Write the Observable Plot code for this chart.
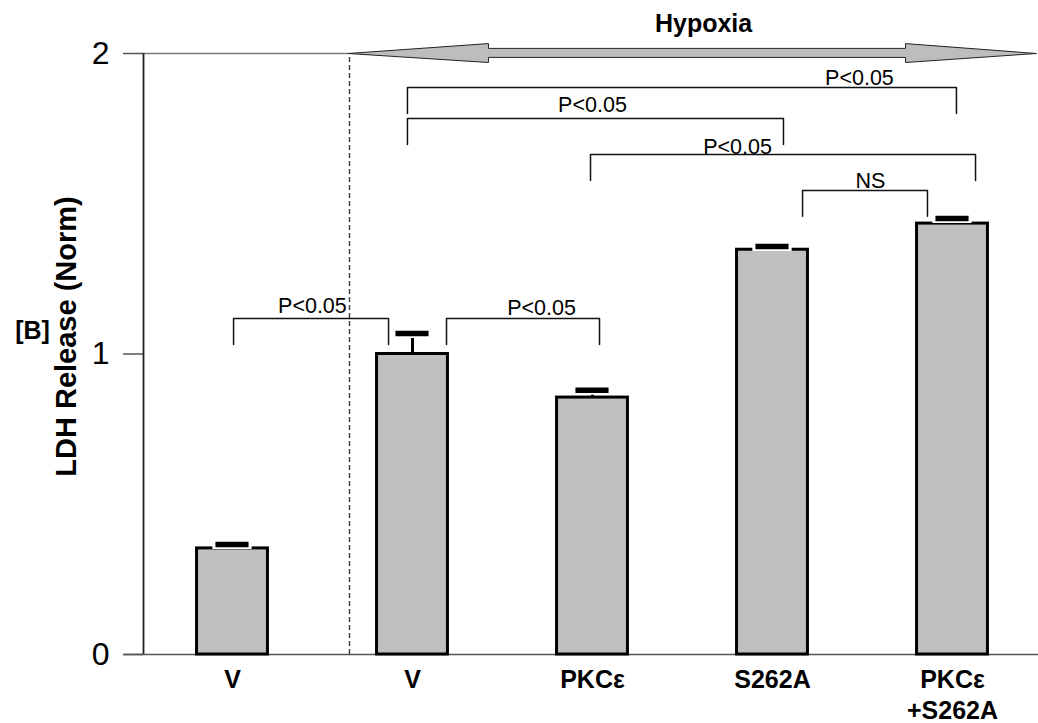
<!DOCTYPE html>
<html>
<head>
<meta charset="utf-8">
<script src="https://cdn.jsdelivr.net/npm/d3@7"></script>
<script src="https://cdn.jsdelivr.net/npm/@observablehq/plot@0.6"></script>
<style>
  html, body { margin: 0; padding: 0; background: #fff; }
  #chart svg { display: block; }
</style>
</head>
<body>
<div id="chart"></div>
<script>
// ---- data ----
const groups = ["V", "V", "PKCε", "S262A", "PKCε\n+S262A"];
const means = [0.353, 1.0, 0.855, 1.347, 1.434];
const errTop = [0.366, 1.068, 0.879, 1.358, 1.451];

const yTicks = [0, 1, 2];

// significance brackets (x in group-index units, y in data units)
const bracketX1 = [0.006, 1.189, 0.972, 0.972, 1.989, 3.167];
const bracketX2 = [0.867, 2.039, 4.022, 3.061, 4.128, 3.861];
const bracketTop = [1.118, 1.118, 1.887, 1.784, 1.664, 1.544];
const bracketLeg = [1.032, 1.032, 1.800, 1.697, 1.577, 1.458];
const sigLabels = ["P<0.05", "P<0.05", "P<0.05", "P<0.05", "P<0.05", "NS"];
const sigLabelX = [0.444, 1.717, 3.483, 2.0, 2.806, 3.544];
const sigLabelY = [1.135, 1.131, 1.894, 1.804, 1.664, 1.551];

// hypoxia double arrow outline
const arrowX = [0.644, 1.422, 1.422, 3.739, 3.739, 4.467, 3.739, 3.739, 1.422, 1.422, 0.644];
const arrowY = [2.0, 2.033, 2.017, 2.017, 2.033, 2.0, 1.970, 1.987, 1.987, 1.970, 2.0];
const hypoxiaStart = 0.65; // dashed separator position

// ---- derived tables ----
const bars = groups.map((g, i) => ({i, g, mean: means[i], err: errTop[i]}));
const brackets = bracketX1.flatMap((x1, k) => [
  {k, x: x1, y: bracketLeg[k]},
  {k, x: x1, y: bracketTop[k]},
  {k, x: bracketX2[k], y: bracketTop[k]},
  {k, x: bracketX2[k], y: bracketLeg[k]}
]);
const sig = sigLabels.map((t, k) => ({t, x: sigLabelX[k], y: sigLabelY[k]}));
const arrow = arrowX.map((x, k) => ({x, y: arrowY[k]}));

const half = 0.197;     // bar half width (index units)
const capHalf = 0.092;  // error cap half width
const xMin = -0.4944, xMax = 4.4778;

const chart = Plot.plot({
  width: 1038,
  height: 723,
  marginLeft: 143,
  marginRight: 0,
  marginTop: 53,
  marginBottom: 69,
  style: {fontFamily: "Liberation Sans, Arial, sans-serif", background: "#fff", overflow: "visible"},
  x: {type: "linear", domain: [xMin, xMax], axis: null},
  y: {domain: [0, 2], axis: null},
  marks: [
    Plot.ruleY([2], {x1: xMin, x2: hypoxiaStart, stroke: "#777", strokeWidth: 1.5}),
    Plot.ruleX([hypoxiaStart], {y1: 0, y2: 2, stroke: "#444", strokeWidth: 1.5, strokeDasharray: "5,3"}),
    Plot.axisY(yTicks, {
      tickSize: 20, tickPadding: 14, fontSize: 32, stroke: "#555", strokeWidth: 1.5, fill: "black",
      tickFormat: d => String(d), label: null
    }),
    Plot.ruleX([xMin], {y1: 0, y2: 2, stroke: "#222", strokeWidth: 1.8}),
    Plot.ruleY([0], {x1: xMin - 20 / 180, x2: xMax, stroke: "#555", strokeWidth: 1.5}),
    Plot.axisX(bars.map(d => d.i), {
      tickSize: 0, tickPadding: 11, fontSize: 25, fontWeight: "bold", fill: "black",
      tickFormat: i => groups[i], label: null, lineHeight: 1.24
    }),
    Plot.rect(bars, {x1: d => d.i - half, x2: d => d.i + half, y1: 0, y2: "mean",
      fill: "#c0c0c0", stroke: "black", strokeWidth: 3}),
    Plot.ruleX(bars, {x: "i", y1: "mean", y2: "err", stroke: "black", strokeWidth: 3}),
    Plot.ruleY(bars, {y: "err", x1: d => d.i - capHalf - 0.017, x2: d => d.i + capHalf + 0.017,
      stroke: "white", strokeWidth: 9}),
    Plot.ruleY(bars, {y: "err", x1: d => d.i - capHalf, x2: d => d.i + capHalf,
      stroke: "black", strokeWidth: 5.5}),
    Plot.line(brackets, {x: "x", y: "y", z: "k", stroke: "#111", strokeWidth: 1.5, curve: "linear"}),
    Plot.text(sig, {x: "x", y: "y", text: "t", fontSize: 21.5, lineAnchor: "bottom", fill: "black"}),
    Plot.line(arrow, {x: "x", y: "y", fill: "#bdbdbd", stroke: "#222", strokeWidth: 1, curve: "linear"}),
    Plot.text(["Hypoxia"], {x: 2.617, y: 2.07, text: d => d, fontSize: 25, fontWeight: "bold",
      lineAnchor: "bottom", fill: "black"}),
    Plot.text(["LDH Release (Norm)"], {x: (76 - 232) / 180, y: (654 - 336) / 300.5, text: d => d,
      rotate: -90, fontSize: 29, fontWeight: "bold", lineAnchor: "bottom", fill: "black"}),
    Plot.text(["[B]"], {x: (32 - 232) / 180, y: (654 - 338) / 300.5, text: d => d,
      fontSize: 25, fontWeight: "bold", lineAnchor: "bottom", fill: "black"})
  ]
});
document.getElementById("chart").appendChild(chart);
</script>
</body>
</html>
